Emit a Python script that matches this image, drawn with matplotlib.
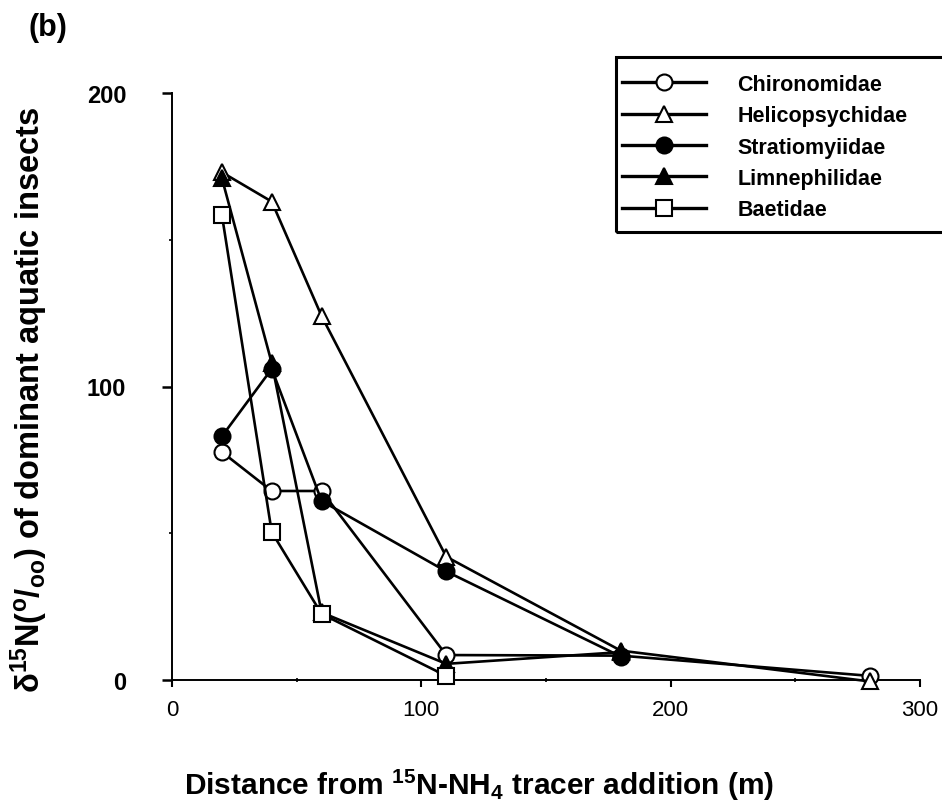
import matplotlib
matplotlib.use("Agg")
import matplotlib.pyplot as plt
from matplotlib.lines import Line2D
from matplotlib.patches import Rectangle

plt.rcParams['font.family'] = ['Liberation Sans', 'DejaVu Sans']
plt.rcParams['mathtext.fontset'] = 'custom'
plt.rcParams['mathtext.rm'] = 'Liberation Sans:bold'
plt.rcParams['mathtext.it'] = 'Liberation Sans:bold'
plt.rcParams['mathtext.bf'] = 'Liberation Sans:bold'

# distance downstream of the tracer addition (m)
dist = [20, 40, 60, 110, 180, 280]

# d15N values
chironomidae = [77.7, 64.4, 64.4, 8.5, 8.3, 1.4]
helicopsychidae = [173, 163, 124, 42, 10, -0.5]
stratiomyiidae = [83, 106, 61, 37, 8]
limnephilidae = [171, 108, 23, 5.5, 9.5]
baetidae = [158.5, 50.4, 22.5, 1.4]

names = ["Chironomidae", "Helicopsychidae", "Stratiomyiidae", "Limnephilidae", "Baetidae"]
series = [chironomidae, helicopsychidae, stratiomyiidae, limnephilidae, baetidae]
markers = ['o', '^', 'o', '^', 's']
faces = ['white', 'white', 'black', 'black', 'white']
msizes = [11.5, 11, 11.5, 11, 11]

fig = plt.figure(figsize=(9.42, 8.12), dpi=100)
ax = fig.add_axes([172/942, 1-681/812, (920-172)/942, (681-94)/812])

handles = []
for name, ys, m, fc, ms in zip(names, series, markers, faces, msizes):
    ax.plot(dist[:len(ys)], ys, color='black', lw=1.9, marker=m, ms=ms,
            mfc=fc, mec='black', mew=1.5, clip_on=False, zorder=3)
    handles.append(Line2D([], [], color='black', lw=2.4, marker=m, ms=ms,
                          mfc=fc, mec='black', mew=1.5))

ax.set_xlim(0, 300)
ax.set_ylim(0, 200)
ax.spines['top'].set_visible(False)
ax.spines['right'].set_visible(False)
ax.spines['left'].set_linewidth(1.4)
ax.spines['bottom'].set_linewidth(1.4)

ax.set_yticks([0, 100, 200])
ax.set_yticks([50, 150], minor=True)
ax.set_xticks([0, 100, 200, 300])
ax.set_xticks([50, 150, 250], minor=True)
ax.tick_params(axis='y', which='major', length=7, width=1.8, pad=26, labelsize=17)
ax.tick_params(axis='y', which='minor', length=2.5, width=1.2)
ax.tick_params(axis='x', which='major', length=5, width=1.5, pad=9, labelsize=16)
ax.tick_params(axis='x', which='minor', length=3, width=1.2, direction='inout')
for t in ax.get_yticklabels():
    t.set_fontweight('bold')

fig.text(29/942, 1-400/812,
         r"$\mathrm{\delta}^{15}$N($^{o}$/$_{oo}$) of dominant aquatic insects",
         fontsize=23.5, fontweight='bold', rotation=90, ha='center', va='center')

fig.text(479/942, 1-785/812,
         r"Distance from $^{\mathbf{15}}$N-NH$_{\mathbf{4}}$ tracer addition (m)",
         fontsize=21.5, fontweight='bold', ha='center', va='center')

fig.text(48/942, 1-28/812, "(b)", fontsize=22, fontweight='bold', ha='center', va='center')

# legend with a frame running off the right edge
fig.patches.append(Rectangle((616/942, 1-233/812), (960-616)/942, (233-58)/812,
                             transform=fig.transFigure, fill=False, lw=2.2,
                             edgecolor='black', clip_on=False))
fig.legend(handles, names, loc='upper left', bbox_to_anchor=(622/942, 1-75/812),
           frameon=False, handlelength=3.9, handletextpad=1.45, labelspacing=0.48,
           prop={'size': 15.5, 'weight': 'bold'}, borderpad=0, borderaxespad=0)

fig.savefig("out.png", dpi=100)
